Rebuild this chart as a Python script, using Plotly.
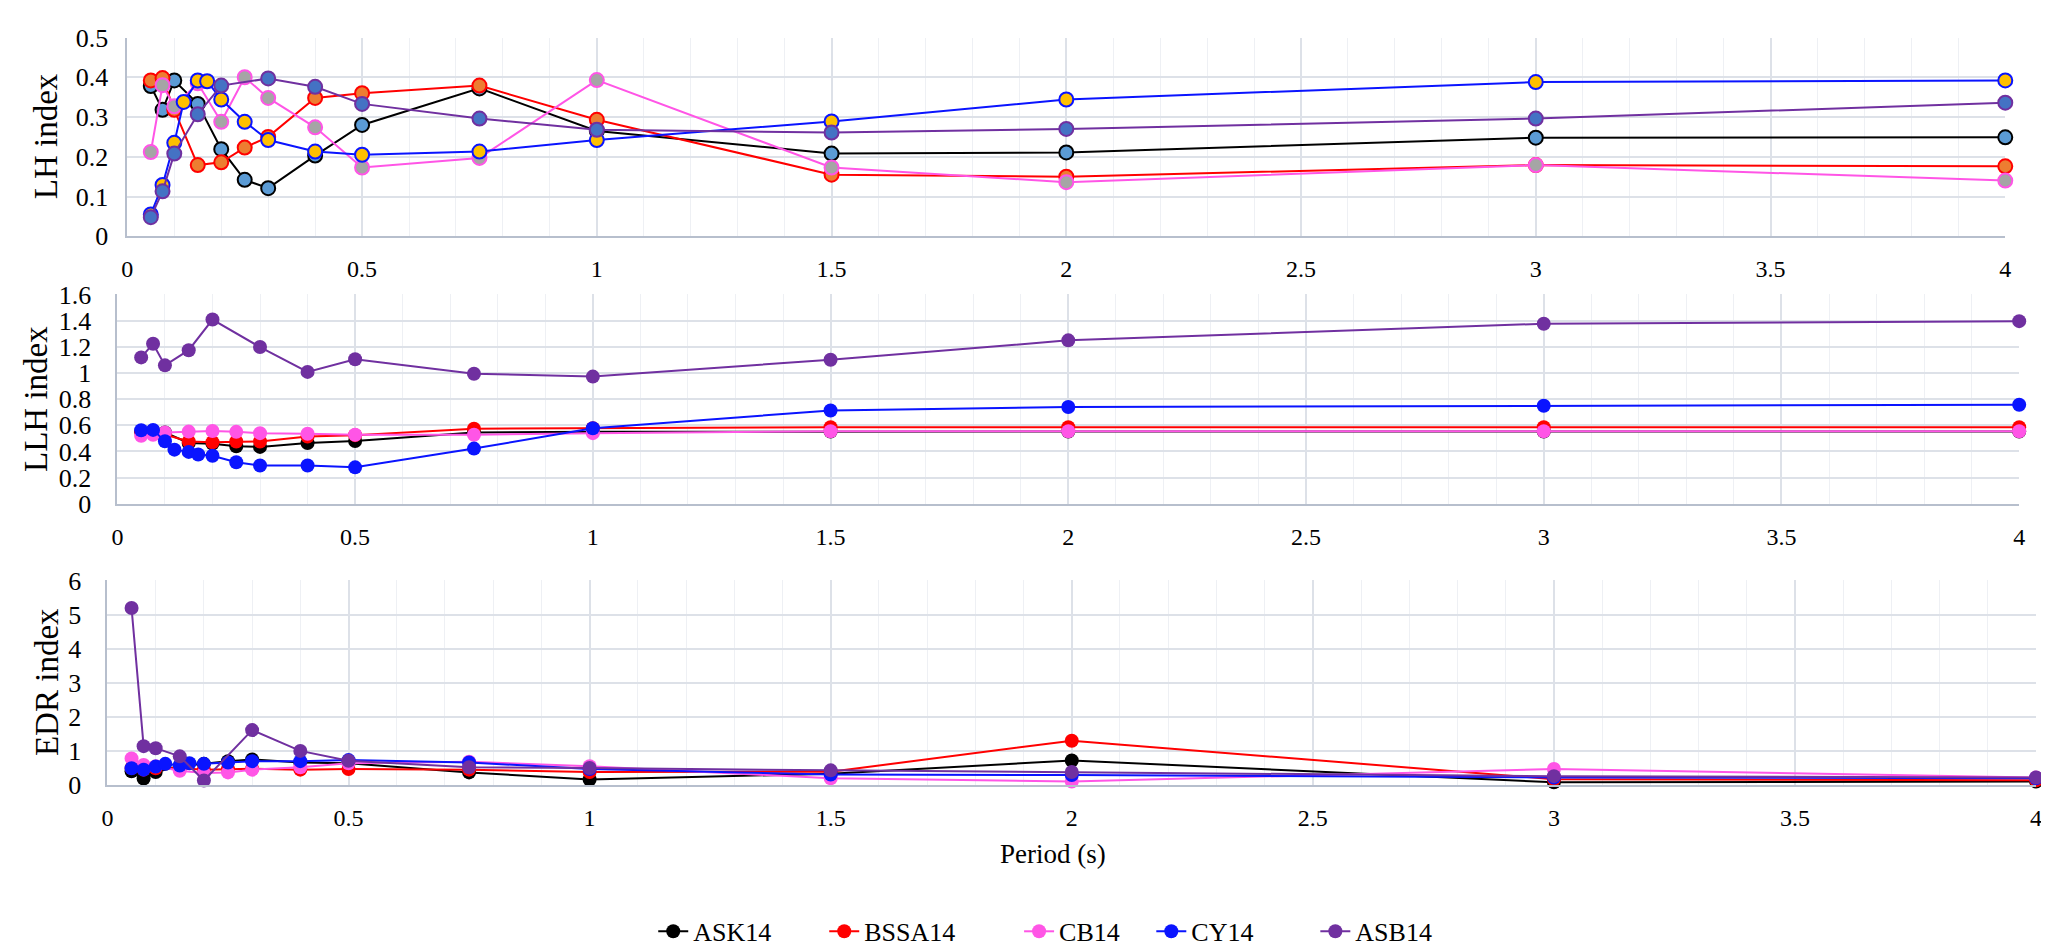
import plotly.graph_objects as go

# ---------------- data ----------------
names = ["ASK14", "BSSA14", "CB14", "CY14", "ASB14"]
line_colors = ["#000000", "#FF0000", "#FF55E6", "#0A14FF", "#7030A0"]
lh_fills = ["#5B9BD5", "#ED7D31", "#A5A5A5", "#FFC000", "#4472C4"]

periods_std = [0.05, 0.075, 0.1, 0.15, 0.2, 0.25, 0.3, 0.4, 0.5, 0.75, 1, 1.5, 2, 3, 4]
periods_cy = [0.05, 0.075, 0.1, 0.12, 0.15, 0.17, 0.2, 0.25, 0.3, 0.4, 0.5, 0.75, 1, 1.5, 2, 3, 4]
periods_asb = [0.05, 0.075, 0.1, 0.15, 0.2, 0.3, 0.4, 0.5, 0.75, 1, 1.5, 2, 3, 4]

lh_ask = [0.378, 0.318, 0.392, 0.333, 0.219, 0.142, 0.121, 0.203, 0.280, 0.372, 0.265, 0.208, 0.211, 0.248, 0.249]
lh_bssa = [0.392, 0.398, 0.318, 0.179, 0.186, 0.223, 0.250, 0.348, 0.360, 0.379, 0.293, 0.155, 0.150, 0.179, 0.176]
lh_cb = [0.212, 0.380, 0.327, 0.385, 0.288, 0.400, 0.348, 0.274, 0.173, 0.197, 0.393, 0.173, 0.136, 0.179, 0.140]
lh_cy = [0.055, 0.129, 0.235, 0.338, 0.392, 0.390, 0.344, 0.288, 0.242, 0.213, 0.205, 0.213, 0.242, 0.289, 0.344, 0.388, 0.392]
lh_asb = [0.048, 0.113, 0.208, 0.307, 0.379, 0.397, 0.376, 0.333, 0.296, 0.268, 0.261, 0.270, 0.296, 0.336]

llh_ask = [0.55, 0.555, 0.545, 0.465, 0.46, 0.44, 0.435, 0.464, 0.48, 0.545, 0.55, 0.553, 0.553, 0.553, 0.553]
llh_bssa = [0.55, 0.555, 0.53, 0.476, 0.471, 0.476, 0.476, 0.515, 0.525, 0.574, 0.578, 0.585, 0.585, 0.585, 0.585]
llh_cb = [0.52, 0.528, 0.545, 0.552, 0.557, 0.55, 0.54, 0.535, 0.528, 0.528, 0.54, 0.555, 0.555, 0.555, 0.555]
llh_cy = [0.562, 0.565, 0.478, 0.414, 0.397, 0.377, 0.367, 0.318, 0.293, 0.293, 0.279, 0.422, 0.578, 0.713, 0.740, 0.750, 0.757]
llh_asb = [1.119, 1.223, 1.058, 1.174, 1.408, 1.198, 1.008, 1.105, 0.994, 0.972, 1.101, 1.249, 1.376, 1.396]

edr_ask = [0.40, 0.19, 0.38, 0.55, 0.62, 0.70, 0.75, 0.66, 0.64, 0.37, 0.16, 0.33, 0.72, 0.08, 0.10]
edr_bssa = [0.50, 0.45, 0.49, 0.50, 0.45, 0.46, 0.48, 0.45, 0.47, 0.45, 0.38, 0.39, 1.30, 0.17, 0.14]
edr_cb = [0.78, 0.59, 0.55, 0.42, 0.35, 0.37, 0.45, 0.52, 0.64, 0.68, 0.55, 0.20, 0.10, 0.47, 0.22]
edr_cy = [0.49, 0.45, 0.54, 0.62, 0.57, 0.64, 0.62, 0.66, 0.70, 0.70, 0.73, 0.66, 0.47, 0.31, 0.29, 0.22, 0.20]
edr_asb = [5.19, 1.14, 1.08, 0.84, 0.13, 1.61, 1.00, 0.71, 0.52, 0.50, 0.43, 0.38, 0.26, 0.22]

panel_titles = ["LH index", "LLH index", "EDR index"]
x_title = "Period (s)"

# ---------------- figure ----------------
W, H = 2049, 951
FONT = "Liberation Serif, serif"
periods = [periods_std, periods_std, periods_std, periods_cy, periods_asb]
panels = [
    [lh_ask, lh_bssa, lh_cb, lh_cy, lh_asb],
    [llh_ask, llh_bssa, llh_cb, llh_cy, llh_asb],
    [edr_ask, edr_bssa, edr_cb, edr_cy, edr_asb],
]
legend_ids = ["legend", "legend2", "legend3", "legend4", "legend5"]
legend_starts = [651, 823, 1019, 1152, 1317]   # pixel x where each legend entry starts

fig = go.Figure()
for p, series in enumerate(panels):
    ax = "" if p == 0 else str(p + 1)
    for i, vals in enumerate(series):
        if p == 0:
            marker = dict(size=14, color=lh_fills[i], line=dict(color=line_colors[i], width=2))
        else:
            marker = dict(size=14, color=line_colors[i], line=dict(width=0))
        fig.add_trace(go.Scatter(
            x=periods[i], y=vals, name=names[i], mode="lines+markers",
            line=dict(color=line_colors[i], width=2), marker=marker,
            xaxis="x" + ax, yaxis="y" + ax, cliponaxis=False,
            showlegend=(p == 1), legend=legend_ids[i],
        ))

def px_x(a, b):
    return [a / W, b / W]

def px_y(top, bottom):
    return [1 - bottom / H, 1 - top / H]

# pixel boxes (left, right, top, bottom)
boxes = [(114, 2003, 16, 221), (104, 2017, 281, 497), (94, 2034, 576, 787)]
yranges = [[0, 0.5], [0, 1.6], [0, 6]]
ydticks = [0.1, 0.2, 1]
ylens = [12, 19, 19]

GRID = "#DDE1E8"
MINOR = "#EEF0F4"
AXL = "#B7BFCD"
xtickfont = dict(family=FONT, size=24, color="#000000")
ytickfont = dict(family=FONT, size=26, color="#000000")

layout = dict(
    width=W, height=H, autosize=False,
    margin=dict(l=0, r=0, t=0, b=0, pad=0),
    paper_bgcolor="white", plot_bgcolor="white",
    font=dict(family=FONT, color="#000000", size=24),
    showlegend=True,
)
for i, lid in enumerate(legend_ids):
    layout[lid] = dict(orientation="h", x=(legend_starts[i] - 8) / W, xanchor="left",
                       y=1 - 938 / H, yanchor="middle", borderwidth=0,
                       font=dict(family=FONT, size=26, color="#000000"),
                       bgcolor="rgba(0,0,0,0)")
for p in range(3):
    l, r, t, b = boxes[p]
    sx = "" if p == 0 else str(p + 1)
    layout["xaxis" + sx] = dict(
        domain=px_x(l, r), range=[0, 4], anchor="y" + sx, tick0=0, dtick=0.5,
        showgrid=True, gridcolor=GRID, gridwidth=1.5,
        minor=dict(dtick=0.1, showgrid=True, gridcolor=MINOR, gridwidth=1),
        showline=True, linecolor=AXL, linewidth=2, zeroline=False,
        ticks="outside", ticklen=10, tickcolor="rgba(0,0,0,0)",
        tickfont=xtickfont, fixedrange=True,
    )
    layout["yaxis" + sx] = dict(
        domain=px_y(t, b), range=yranges[p], anchor="x" + sx, tick0=0, dtick=ydticks[p],
        showgrid=True, gridcolor=GRID, gridwidth=2,
        showline=True, linecolor=AXL, linewidth=2, zeroline=False,
        ticks="outside", ticklen=ylens[p], tickcolor="rgba(0,0,0,0)",
        tickfont=ytickfont, fixedrange=True,
    )
fig.update_layout(**layout)

title_pos = [(33, 118), (22, 389), (33, 681)]
anns = []
for p in range(3):
    cx, cy = title_pos[p]
    anns.append(dict(text=panel_titles[p], x=cx / W, y=1 - cy / H, xref="paper", yref="paper",
                     textangle=-90, showarrow=False, xanchor="center", yanchor="middle",
                     font=dict(family=FONT, size=33, color="#000000")))
anns.append(dict(text=x_title, x=1045 / W, y=1 - 858 / H, xref="paper", yref="paper",
                 showarrow=False, xanchor="center", yanchor="middle",
                 font=dict(family=FONT, size=27, color="#000000")))
fig.update_layout(annotations=anns)

fig.write_html("out.html")
